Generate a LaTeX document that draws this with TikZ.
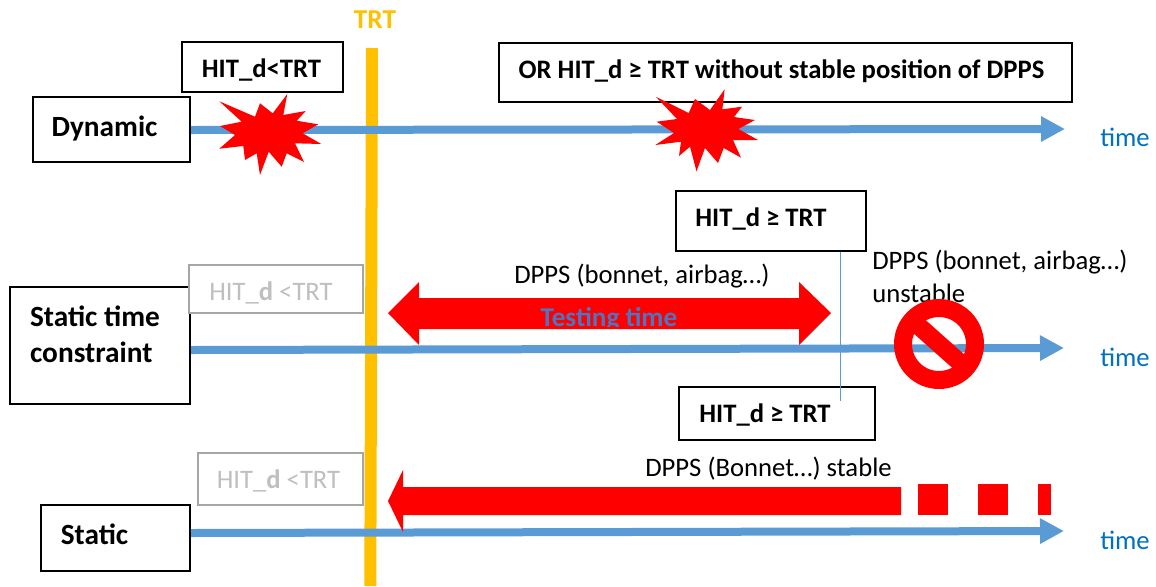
\documentclass[tikz,border=0pt]{standalone}
\usepackage{fontspec}
\setmainfont{Carlito}
\usetikzlibrary{arrows.meta,calc}
\newdimen\pxu \pxu=0.75pt
\definecolor{axisblue}{HTML}{5B9BD5}
\definecolor{timeblue}{HTML}{0070C0}
\definecolor{trtorange}{HTML}{FFC000}
\definecolor{greytext}{HTML}{BFBFBF}
\definecolor{greyline}{HTML}{A6A6A6}
\definecolor{testblue}{HTML}{4F74C0}
\newcommand{\tbx}[3]{\raisebox{#2\pxu}[0pt][0pt]{\hspace*{#1\pxu}#3\hspace*{-#1\pxu}}}
\tikzset{
  box/.style={draw=black,line width=1.5pt,fill=white,inner sep=0pt,font=\fontsize{20}{27}\selectfont\bfseries},
  rowbox/.style={box,font=\fontsize{22}{27}\selectfont\bfseries},
  ghost/.style={draw=greyline,line width=1.5pt,fill=white,inner sep=0pt,text=greytext,font=\fontsize{20}{24}\selectfont},
  axis/.style={draw=axisblue,line width=6pt,-{Triangle[length=18pt,width=18pt]}},
  timelab/.style={text=timeblue,anchor=base west,inner sep=0pt,font=\fontsize{20}{24}\selectfont},
  lab/.style={anchor=base west,inner sep=0pt,font=\fontsize{20}{24}\selectfont},
  burst/.style={fill=red,draw=none},
  block/.style={fill=red,draw=none},
}
\begin{document}
\begin{tikzpicture}[x=0.75pt,y=-0.75pt]
\useasboundingbox (0,0) rectangle (1156,586);

% TRT bar
\coordinate (trtTop) at (372,48);
\coordinate (trtBot) at (370.3,586);
\draw[trtorange,line width=9pt] (trtTop) -- (trtBot);
\node[anchor=base,inner sep=0pt,text=trtorange,font=\fontsize{20.5}{24}\selectfont\bfseries] (trt) at (375,28) {TRT};

% left labels
\node[rowbox,minimum width=157\pxu,minimum height=65\pxu] (dyn) at (111.5,129.5) {\tbx{-7}{-7}{Dynamic}};
\node[rowbox,minimum width=180\pxu,minimum height=117\pxu] (stc) at (100,345.5) {\tbx{-5}{-16.5}{\begin{tabular}[b]{@{}l@{}}Static time\\constraint\end{tabular}}};
\node[rowbox,minimum width=149\pxu,minimum height=66\pxu] (sta) at (115.5,538) {\tbx{-21}{-6}{Static}};

% time axes
\coordinate (t1) at (1065,129);
\coordinate (t2) at (1064,348);
\coordinate (t3) at (1064,531);
\draw[axis] (dyn.east |- 0,130) -- (t1);
\draw[axis] (stc.east |- 0,350) -- (t2);
\draw[axis] (sta.east |- 0,533) -- (t3);
\node[timelab] (time1) at (1100,146) {time};
\node[timelab] (time2) at (1100,366) {time};
\node[timelab] (time3) at (1100,549) {time};

% top boxes
\node[box,minimum width=161\pxu,minimum height=50\pxu] (hit1) at (262.5,67) {\tbx{-1}{-10}{HIT\_d<TRT}};
\node[box,minimum width=573\pxu,minimum height=59\pxu] (orbox) at (785.5,72.5) {\tbx{-4}{-6}{OR HIT\_d ≥ TRT without stable position of DPPS}};

% bursts
\path[burst] (287.3,94) -- (272.7,113.3) -- (260,103.3) -- (255,116.7) -- (219.3,101.3) -- (241.7,121.7) -- (220,126) -- (235,135) -- (219.3,148.7) -- (243.3,146) -- (245,160) -- (256.7,153.3) -- (260,175) -- (268.7,151.7) -- (281.7,166.7) -- (286.7,153.3) -- (304,162) -- (295,143.3) -- (321.3,144) -- (302.7,133.3) -- (318.3,124.3) -- (296.7,120.7) -- (305.7,111) -- (283.3,115) -- cycle;
\path[burst] (724.6,89.3) -- (710,110) -- (695,99) -- (688.7,113) -- (655.8,96.7) -- (677,119) -- (656.6,121.7) -- (674,133) -- (655.3,145) -- (681,141.7) -- (679,156) -- (690,146.7) -- (696.5,171.3) -- (705,148) -- (718,163) -- (723.7,148) -- (741,157.7) -- (733,140) -- (758,140) -- (738.4,129) -- (755,120) -- (734,117) -- (742,106.7) -- (722.4,109.3) -- cycle;

% ghost boxes
\node[ghost,minimum width=174\pxu,minimum height=48\pxu] (gh1) at (276,289) {\tbx{-5}{-11}{HIT\_\textbf{d} <TRT}};
\node[ghost,minimum width=165\pxu,minimum height=52\pxu] (gh2) at (280.5,479) {\tbx{-2}{-9}{HIT\_\textbf{d} <TRT}};

% testing arrow
\path[block] (388,313) -- (419,282) -- (419,298) -- (799,298) -- (799,282) -- (831,313) -- (799,345) -- (799,329) -- (419,329) -- (419,345) -- cycle;
\begin{scope}
\clip (500,290) rectangle (720,326.5);
\node[anchor=base,inner sep=0pt,text=testblue,font=\fontsize{20.4}{24}\selectfont\bfseries] (testing) at (609,326) {Testing time};
\end{scope}
\node[lab] (dpps1) at (514,283) {DPPS (bonnet, airbag…)};

% HIT_d >= TRT pair
\node[box,minimum width=190\pxu,minimum height=60\pxu] (hit2) at (771,221) {\tbx{-10}{-5}{HIT\_d ≥ TRT}};
\node[box,minimum width=196\pxu,minimum height=53\pxu] (hit3) at (777,413.5) {\tbx{-12}{-9}{HIT\_d ≥ TRT}};
\coordinate (thinEnd) at (840,401);
\draw[axisblue,line width=0.75pt] (thinEnd |- hit2.south) -- (thinEnd);

% unstable
\node[lab] (dpps2) at (872,269) {DPPS (bonnet, airbag…)};
\node[lab] (unst) at (872,302) {unstable};
\coordinate (noC) at (939,344);
\draw[red,line width=13.5pt] (noC) circle [radius=36\pxu];
\draw[red,line width=13.5pt] ($(noC)+(-27,-24)$) -- ($(noC)+(27,24)$);

% bottom arrow
\path[block] (388,501) -- (403,470) -- (403,487) -- (901,487) -- (901,515) -- (403,515) -- (403,532) -- cycle;
\path[block] (918,484) rectangle (948,515);
\path[block] (978,484) rectangle (1008,515);
\path[block] (1038,484) rectangle (1051,515);
\node[lab] (dpps3) at (645,476) {DPPS (Bonnet…) stable};
\end{tikzpicture}
\end{document}
